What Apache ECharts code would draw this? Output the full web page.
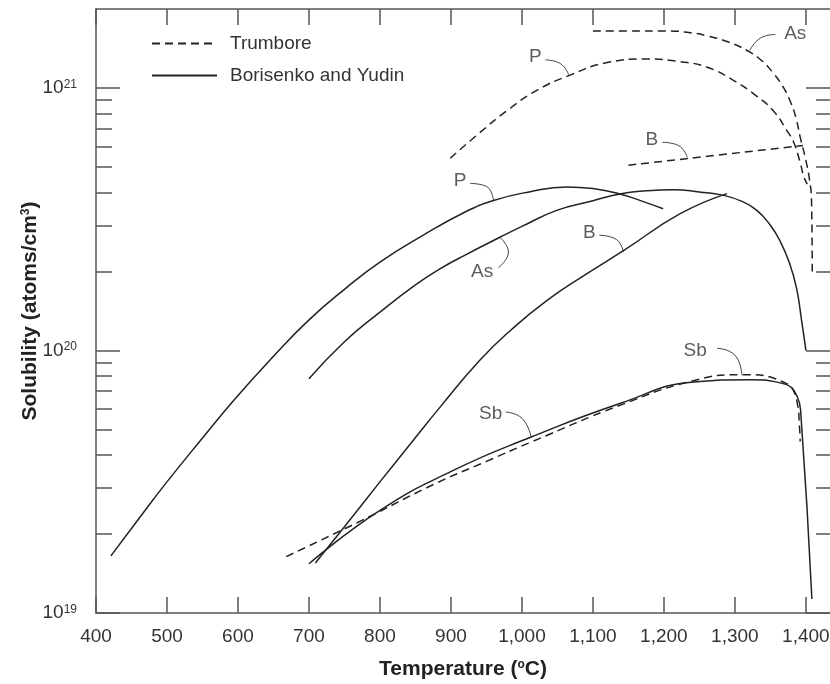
<!DOCTYPE html>
<html>
<head>
<meta charset="utf-8">
<script src="https://cdn.jsdelivr.net/npm/echarts@6/dist/echarts.min.js"></script>
<style>
  html, body { margin: 0; padding: 0; background: #fff; }
  #chart { width: 830px; height: 684px; }
</style>
</head>
<body>
<div id="chart"></div>
<script>
// tick values
var xTicks = [400, 500, 600, 700, 800, 900, 1000, 1100, 1200, 1300, 1400];
var yMajor = [1e19, 1e20, 1e21];
var yMinor = [2e19, 3e19, 4e19, 5e19, 6e19, 7e19, 8e19, 9e19,
  2e20, 3e20, 4e20, 5e20, 6e20, 7e20, 8e20, 9e20, 2e21];

// Trumbore (dashed)
var trumboreP = [[899, 5.4e20], [939, 6.7e20], [979, 8.2e20], [1021, 9.8e20], [1068, 1.12e21],
  [1120, 1.25e21], [1176, 1.29e21], [1223, 1.26e21], [1261, 1.2e21], [1298, 1.07e21],
  [1331, 9.3e20], [1354, 8.2e20], [1373, 6.9e20], [1383, 6.2e20], [1392, 5.2e20],
  [1397, 4.6e20], [1402, 4.3e20]];
var trumboreAs = [[1100, 1.65e21], [1150, 1.65e21], [1204, 1.65e21], [1240, 1.62e21],
  [1261, 1.58e21], [1290, 1.5e21], [1317, 1.39e21], [1338, 1.27e21], [1354, 1.14e21],
  [1367, 1.02e21], [1378, 8.9e20], [1386, 7.7e20], [1392, 6.5e20], [1400, 5.3e20],
  [1405, 4.5e20], [1408, 3.7e20], [1409, 2.0e20]];
var trumboreB = [[1150, 5.08e20], [1396, 6.04e20]];
var trumboreSb = [[668, 1.64e19], [774, 2.25e19], [878, 3.11e19], [950, 3.78e19],
  [1013, 4.48e19], [1138, 6.18e19], [1243, 7.69e19], [1310, 8.09e19], [1368, 7.59e19],
  [1388, 6.28e19], [1391, 5.12e19], [1392, 4.5e19]];

// Borisenko and Yudin (solid)
var borisenkoP = [[421, 1.65e19], [460, 2.28e19], [498, 3.11e19], [550, 4.64e19],
  [596, 6.55e19], [650, 9.5e19], [699, 1.3e20], [750, 1.71e20], [800, 2.17e20],
  [860, 2.74e20], [920, 3.37e20], [960, 3.73e20], [1010, 4.02e20], [1063, 4.2e20],
  [1100, 4.14e20], [1138, 3.95e20], [1170, 3.7e20], [1199, 3.47e20]];
var borisenkoAs = [[700, 7.8e19], [750, 1.08e20], [800, 1.4e20], [850, 1.78e20],
  [885, 2.05e20], [920, 2.31e20], [969, 2.7e20], [1000, 2.97e20], [1049, 3.42e20],
  [1100, 3.72e20], [1138, 3.95e20], [1175, 4.06e20], [1213, 4.1e20], [1250, 4.02e20],
  [1284, 3.9e20], [1310, 3.7e20], [1331, 3.42e20], [1350, 3.0e20], [1364, 2.6e20],
  [1377, 2.15e20], [1387, 1.72e20], [1394, 1.3e20], [1399, 1.05e20], [1400, 1.0e20]];
var borisenkoB = [[709, 1.55e19], [750, 2.13e19], [798, 3.11e19], [847, 4.55e19],
  [885, 6.1e19], [941, 9.2e19], [985, 1.2e20], [1035, 1.55e20], [1090, 1.95e20],
  [1143, 2.4e20], [1223, 3.32e20], [1289, 3.96e20]];
var borisenkoSb = [[700, 1.54e19], [800, 2.46e19], [904, 3.5e19], [1013, 4.68e19],
  [1138, 6.28e19], [1243, 7.59e19], [1320, 7.74e19], [1368, 7.48e19], [1388, 6.65e19],
  [1393, 5.7e19], [1408.5, 1.13e19]];

// curve labels and their leader curves
var labelNames = ['As', 'P', 'B', 'P', 'As', 'B', 'Sb', 'Sb'];
var labelAt = [[1385, 1.61e21], [1019, 1.31e21], [1183, 6.35e20], [913, 4.45e20],
  [944, 1.99e20], [1095, 2.81e20], [1244, 1.0e20], [956, 5.75e19]];
var leaders = [
  [[1357, 1.6e21], [1336, 1.55e21], [1321, 1.39e21]],
  [[1033, 1.28e21], [1054, 1.24e21], [1066, 1.12e21]],
  [[1198, 6.21e20], [1220, 6.05e20], [1233, 5.45e20]],
  [[927, 4.33e20], [950, 4.22e20], [960, 3.73e20]],
  [[967, 2.07e20], [981, 2.37e20], [969, 2.7e20]],
  [[1109, 2.75e20], [1133, 2.65e20], [1143, 2.37e20]],
  [[1275, 1.02e20], [1300, 9.6e19], [1310, 8.04e19]],
  [[977, 5.83e19], [1000, 5.52e19], [1013, 4.68e19]]
];

var FONT = '"Liberation Sans", Arial, Helvetica, sans-serif';
var INK = '#222';
var AXIS = '#555';
var DASH = [8, 5];

function fmtX(v) {
  if (v >= 1000) {
    return Math.floor(v / 1000) + ',' + String(v % 1000).padStart(3, '0');
  }
  return String(v);
}

function curve(name, data, dashed) {
  return {
    type: 'line',
    name: name,
    data: data,
    smooth: 0.5,
    symbol: 'none',
    silent: true,
    lineStyle: { color: INK, width: 1.5, type: dashed ? DASH : 'solid' },
    itemStyle: { color: INK },
    z: 3
  };
}

var series = [
  curve('Trumbore', trumboreP, true),
  curve('Trumbore', trumboreAs, true),
  curve('Trumbore', trumboreB, true),
  curve('Trumbore', trumboreSb, true),
  curve('Borisenko and Yudin', borisenkoP, false),
  curve('Borisenko and Yudin', borisenkoAs, false),
  curve('Borisenko and Yudin', borisenkoB, false),
  curve('Borisenko and Yudin', borisenkoSb, false)
];

leaders.forEach(function (pts) {
  series.push({
    type: 'line',
    name: 'leader',
    data: pts,
    smooth: true,
    symbol: 'none',
    silent: true,
    lineStyle: { color: '#444', width: 1 },
    z: 2
  });
});

series.push({
  type: 'scatter',
  name: 'labels',
  symbolSize: 1,
  itemStyle: { color: 'rgba(0,0,0,0)' },
  silent: true,
  label: {
    show: true,
    position: 'inside',
    formatter: '{b}',
    fontFamily: FONT,
    fontSize: 19,
    color: '#333'
  },
  data: labelNames.map(function (n, i) {
    return { name: n, value: labelAt[i] };
  })
});

function yAxisBase(pos, ticks, len) {
  return {
    type: 'log',
    logBase: 10,
    min: 1e19,
    max: 2e21,
    position: pos,
    axisLine: { show: false },
    axisTick: {
      show: true, inside: true, length: len, customValues: ticks,
      lineStyle: { color: AXIS, width: 1.5 }
    },
    axisLabel: { show: false },
    splitLine: { show: false }
  };
}

var yLeft = yAxisBase('left', yMajor, 24);
yLeft.axisLine = { show: true, lineStyle: { color: AXIS, width: 1.5 } };
yLeft.axisLabel = {
  show: true,
  customValues: yMajor,
  margin: 19,
  formatter: function (v) {
    return '{b|10}{s|' + Math.round(Math.log10(v)) + '}';
  },
  rich: {
    b: { fontFamily: FONT, fontSize: 19, color: '#333', lineHeight: 19, padding: [8, 0, 0, 0], verticalAlign: 'bottom' },
    s: { fontFamily: FONT, fontSize: 12, color: '#333', lineHeight: 12, verticalAlign: 'top' }
  }
};
yLeft.name = '{b|Solubility (atoms/cm}{s|3}{b|)}';
yLeft.nameLocation = 'middle';
yLeft.nameGap = 55;
yLeft.nameMoveOverlap = false;
yLeft.nameTextStyle = {
  rich: {
    b: { fontFamily: FONT, fontSize: 21, fontWeight: 'bold', color: '#222', lineHeight: 21, padding: [7, 0, 0, 0], verticalAlign: 'bottom' },
    s: { fontFamily: FONT, fontSize: 12, fontWeight: 'bold', color: '#222', lineHeight: 12, verticalAlign: 'top' }
  }
};

var option = {
  animation: false,
  backgroundColor: '#fff',
  textStyle: { fontFamily: FONT },
  grid: { left: 96, right: 0, top: 9, bottom: 71, outerBoundsMode: 'none' },
  legend: {
    orient: 'vertical',
    left: 146,
    top: 29,
    itemWidth: 65,
    itemHeight: 14,
    itemGap: 13,
    selectedMode: false,
    itemStyle: { opacity: 0 },
    data: ['Trumbore', 'Borisenko and Yudin'],
    textStyle: { fontFamily: FONT, fontSize: 19, color: '#333', padding: [0, 0, 0, 8] }
  },
  xAxis: [
    {
      type: 'value',
      position: 'bottom',
      min: 400,
      max: 1434,
      axisLine: { show: true, lineStyle: { color: AXIS, width: 1.5 } },
      axisTick: { show: true, inside: true, length: 16, customValues: xTicks, lineStyle: { color: AXIS, width: 1.5 } },
      axisLabel: { customValues: xTicks, formatter: fmtX, fontFamily: FONT, fontSize: 19, color: '#333', margin: 14 },
      splitLine: { show: false },
      name: '{b|Temperature (}{s|o}{b|C)}',
      nameLocation: 'middle',
      nameGap: 46,
      nameMoveOverlap: false,
      nameTextStyle: {
        rich: {
          b: { fontFamily: FONT, fontSize: 21, fontWeight: 'bold', color: '#222', lineHeight: 21, padding: [7, 0, 0, 0], verticalAlign: 'bottom' },
          s: { fontFamily: FONT, fontSize: 12, fontWeight: 'bold', color: '#222', lineHeight: 12, verticalAlign: 'top' }
        }
      }
    },
    {
      type: 'value',
      position: 'top',
      min: 400,
      max: 1434,
      axisLine: { show: true, lineStyle: { color: AXIS, width: 1.5 } },
      axisTick: { show: true, inside: true, length: 16, customValues: xTicks, lineStyle: { color: AXIS, width: 1.5 } },
      axisLabel: { show: false },
      splitLine: { show: false }
    }
  ],
  yAxis: [
    yLeft,
    yAxisBase('left', yMinor, 16),
    yAxisBase('right', yMajor, 24),
    yAxisBase('right', yMinor, 14)
  ],
  series: series
};

var chart = echarts.init(document.getElementById('chart'), null, { renderer: 'canvas' });
chart.setOption(option);
</script>
</body>
</html>
